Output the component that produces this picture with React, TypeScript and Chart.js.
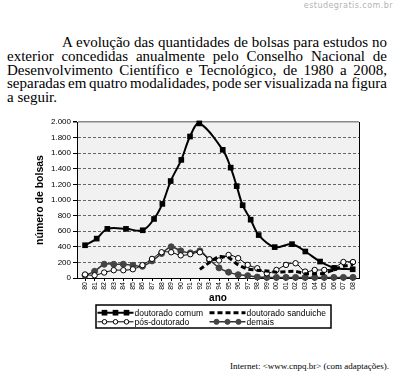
import React, { useEffect, useRef } from "react";
import { Chart, registerables } from "chart.js";

Chart.register(...registerables);

// ---------- data ----------
const years = [
  1980, 1981, 1982, 1983, 1984, 1985, 1986, 1987, 1988, 1989,
  1990, 1991, 1992, 1993, 1994, 1995, 1996, 1997, 1998, 1999,
  2000, 2001, 2002, 2003, 2004, 2005, 2006, 2007, 2008,
];
const xTickLabels = [
  "80", "81", "82", "83", "84", "85", "86", "87", "88", "89",
  "90", "91", "92", "93", "94", "95", "96", "97", "98", "99",
  "00", "01", "02", "03", "04", "05", "06", "07", "08",
];
const yTickLabels = ["0", "200", "400", "600", "800", "1.000", "1.200", "1.400", "1.600", "1.800", "2.000"];
const seriesNames = ["doutorado comum", "doutorado sanduiche", "pós-doutorado", "demais"];

// doutorado comum: markers as placed in the figure (year position, value)
const comumYears = [
  1980, 1981.22, 1982.33, 1984.28, 1986.03, 1987.21, 1988.08, 1988.95, 1990.06, 1990.97,
  1991.94, 1994.39, 1995.22, 1995.85, 1996.47, 1997.31, 1998.15, 1999.82, 2001.63, 2003.02,
  2004.56, 2006.05, 2007.97,
];
const comumValues = [
  420, 505, 630, 630, 612, 757, 950, 1243, 1514, 1814,
  1982, 1643, 1415, 1178, 933, 748, 550, 396, 434, 340,
  211, 129, 112,
];
const sanduicheYears = [
  1992, 1993, 1994, 1995, 1996, 1997, 1998, 1999, 2000, 2001, 2002, 2003, 2004, 2005, 2006, 2007, 2008,
];
const sanduicheValues = [110, 200, 275, 260, 170, 115, 100, 90, 75, 82, 85, 55, 55, 60, 105, 150, 170];
const posValues = [
  45, 35, 70, 100, 100, 112, 165, 245, 330, 330,
  290, 305, 330, 240, 225, 295, 254, 168, 125, 60,
  103, 168, 189, 82, 103, 103, 125, 205, 205,
];
const demaisValues = [
  35, 86, 177, 175, 177, 163, 150, 219, 314, 400,
  348, 322, 348, 235, 130, 75, 42, 30, 12, 8,
  8, 8, 8, 8, 8, 8, 8, 8, 8,
];

const textLines = [
  "A evolução das quantidades de bolsas para estudos no",
  "exterior concedidas anualmente pelo Conselho Nacional de",
  "Desenvolvimento Científico e Tecnológico, de 1980 a 2008,",
  "separadas em quatro modalidades, pode ser visualizada na figura",
  "a seguir.",
];

const FONT = '"Liberation Sans", Arial, sans-serif';
const SERIF = '"Liberation Serif", "Times New Roman", serif';

// legend layout (canvas coordinates)
const legendCols = [
  { sx: 97.5, tx: 134.5 },
  { sx: 209.5, tx: 246.5 },
];
const legendRows = [202.7, 211.8];
const legendSlots = [
  [0, 0],
  [1, 0],
  [0, 1],
  [1, 1],
];

const plotDecor = {
  id: "plotDecor",
  beforeDraw(chart: any) {
    const { ctx, chartArea: a } = chart;
    ctx.save();
    ctx.fillStyle = "#f1f1f1";
    ctx.fillRect(a.left, a.top, a.right - a.left, a.bottom - a.top);
    ctx.restore();
  },
  afterDraw(chart: any) {
    const { ctx, chartArea: a } = chart;
    ctx.save();
    // right border of plot
    ctx.strokeStyle = "#000";
    ctx.lineWidth = 1;
    ctx.beginPath();
    ctx.moveTo(a.right + 0.5, a.top);
    ctx.lineTo(a.right + 0.5, a.bottom);
    ctx.stroke();

    // legend box
    ctx.fillStyle = "#fff";
    ctx.fillRect(96, 195, 235, 23);
    ctx.strokeStyle = "#000";
    ctx.lineWidth = 1.5;
    ctx.strokeRect(96, 195, 235, 23);

    chart.data.datasets.forEach((ds: any, i: number) => {
      const [c, r] = legendSlots[i];
      const { sx, tx } = legendCols[c];
      const y = legendRows[r];
      ctx.save();
      ctx.strokeStyle = ds.borderColor;
      ctx.lineWidth = ds.borderWidth;
      ctx.setLineDash(ds.borderDash || []);
      ctx.beginPath();
      ctx.moveTo(sx, y);
      ctx.lineTo(sx + 36, y);
      ctx.stroke();
      ctx.setLineDash([]);
      if (ds.pointRadius > 0) {
        for (const dx of [7, 18, 29]) {
          const px = sx + dx;
          ctx.fillStyle = ds.pointBackgroundColor;
          ctx.strokeStyle = ds.pointBorderColor;
          ctx.lineWidth = ds.pointBorderWidth;
          if (ds.pointStyle === "rect") {
            const s = Math.SQRT1_2 * ds.pointRadius;
            ctx.fillRect(px - s, y - s, 2 * s, 2 * s);
          } else {
            ctx.beginPath();
            ctx.arc(px, y, ds.pointRadius * 0.85, 0, Math.PI * 2);
            ctx.fill();
            ctx.stroke();
          }
        }
      }
      ctx.fillStyle = "#000";
      ctx.font = `8.5px ${FONT}`;
      ctx.textBaseline = "middle";
      ctx.textAlign = "left";
      ctx.fillText(ds.label, tx, y + 0.5);
      ctx.restore();
    });
    ctx.restore();
  },
};

export default function App() {
  const ref = useRef<HTMLCanvasElement>(null);

  useEffect(() => {
    const canvas = ref.current;
    if (!canvas) return;
    const chart = new Chart(canvas, {
      type: "line",
      data: {
        datasets: [
          {
            label: seriesNames[0],
            data: comumYears.map((x, i) => ({ x, y: comumValues[i] })),
            borderColor: "#000",
            borderWidth: 2,
            pointStyle: "rect",
            pointRadius: 4,
            pointBackgroundColor: "#000",
            pointBorderColor: "#000",
            pointBorderWidth: 0,
            tension: 0.35,
            clip: false,
          },
          {
            label: seriesNames[1],
            data: sanduicheYears.map((x, i) => ({ x, y: sanduicheValues[i] })),
            borderColor: "#000",
            borderWidth: 3,
            borderDash: [5, 3],
            pointRadius: 0,
            pointBackgroundColor: "#000",
            pointBorderColor: "#000",
            pointBorderWidth: 0,
            tension: 0.2,
            clip: false,
          },
          {
            label: seriesNames[2],
            data: years.map((x, i) => ({ x, y: posValues[i] })),
            borderColor: "#000",
            borderWidth: 1,
            pointStyle: "circle",
            pointRadius: 2.7,
            pointBackgroundColor: "#fff",
            pointBorderColor: "#000",
            pointBorderWidth: 1,
            tension: 0.3,
            clip: false,
          },
          {
            label: seriesNames[3],
            data: years.map((x, i) => ({ x, y: demaisValues[i] })),
            borderColor: "#333",
            borderWidth: 1.5,
            pointStyle: "circle",
            pointRadius: 3,
            pointBackgroundColor: "#444",
            pointBorderColor: "#444",
            pointBorderWidth: 1,
            tension: 0.3,
            clip: false,
          },
        ] as any,
      },
      options: {
        responsive: false,
        animation: false,
        devicePixelRatio: 1,
        layout: { padding: { left: 0, right: 38, top: 12, bottom: 31 } },
        plugins: {
          legend: { display: false },
          tooltip: { enabled: false },
        },
        scales: {
          x: {
            type: "linear",
            min: 1979.16,
            max: 2008.63,
            afterBuildTicks: (s: any) => {
              s.ticks = years.map((v) => ({ value: v }));
            },
            afterFit: (s: any) => {
              s.height = 26;
            },
            ticks: {
              autoSkip: false,
              minRotation: 90,
              maxRotation: 90,
              padding: 1,
              color: "#000",
              font: { family: FONT, size: 7 },
              callback: (v: any) => {
                const i = years.indexOf(Number(v));
                return i >= 0 ? xTickLabels[i] : "";
              },
            },
            grid: { drawOnChartArea: false, drawTicks: true, tickLength: 3, tickColor: "#000" },
            border: { color: "#000", width: 1 },
            title: {
              display: true,
              text: "ano",
              color: "#000",
              font: { family: FONT, size: 10, weight: "bold" },
              padding: { top: 0, bottom: 0 },
            },
          },
          y: {
            min: 0,
            max: 2000,
            afterFit: (s: any) => {
              s.width = 77;
            },
            ticks: {
              stepSize: 200,
              padding: 2,
              color: "#000",
              font: { family: FONT, size: 8 },
              callback: (v: any) => yTickLabels[Math.round(Number(v) / 200)],
            },
            grid: {
              color: (c: any) => (c.tick && c.tick.value === 2000 ? "#8a8a8a" : "#666"),
              lineWidth: (c: any) => (c.tick && c.tick.value === 2000 ? 1.5 : 1),
              tickLength: 4,
              tickColor: "#000",
            },
            border: {
              color: "#000",
              width: 1,
              dash: (c: any) => (c.tick && c.tick.value === 2000 ? [] : [3, 2]),
            },
            title: {
              display: true,
              text: "número de bolsas",
              color: "#000",
              font: { family: FONT, size: 10.5, weight: "bold" },
              padding: { top: 34, bottom: 0 },
            },
          },
        },
      } as any,
      plugins: [plotDecor],
    });
    return () => chart.destroy();
  }, []);

  return (
    <div
      style={{
        position: "fixed",
        left: 0,
        top: 0,
        width: 397,
        height: 385,
        background: "#fff",
        overflow: "hidden",
      }}
    >
      <div
        style={{
          position: "absolute",
          right: 4,
          top: 0,
          fontFamily: '"DejaVu Sans", sans-serif',
          fontSize: 8,
          letterSpacing: "0.45px",
          lineHeight: "12px",
          color: "#b3b3b3",
          whiteSpace: "nowrap",
        }}
      >
        estudegratis.com.br
      </div>
      <div
        style={{
          position: "absolute",
          left: 7,
          top: 36,
          width: 380,
          fontFamily: SERIF,
          fontSize: 15,
          lineHeight: "13.75px",
          color: "#000",
        }}
      >
        {textLines.map((t, i) => (
          <div
            key={i}
            style={{
              textAlign: i < 4 ? "justify" : "left",
              textAlignLast: i < 4 ? "justify" : "left",
              textIndent: i === 0 ? 55 : 0,
              wordSpacing: i === 3 ? "-1.6px" : undefined,
              whiteSpace: "nowrap",
            }}
          >
            {t}
          </div>
        ))}
      </div>
      <canvas
        ref={ref}
        width={397}
        height={225}
        style={{ position: "absolute", left: 0, top: 110, width: 397, height: 225 }}
      />
      <div
        style={{
          position: "absolute",
          right: 8,
          top: 361,
          fontFamily: SERIF,
          fontSize: 9,
          lineHeight: "11px",
          color: "#000",
          whiteSpace: "nowrap",
        }}
      >
        Internet: &lt;www.cnpq.br&gt; (com adaptações).
      </div>
    </div>
  );
}
